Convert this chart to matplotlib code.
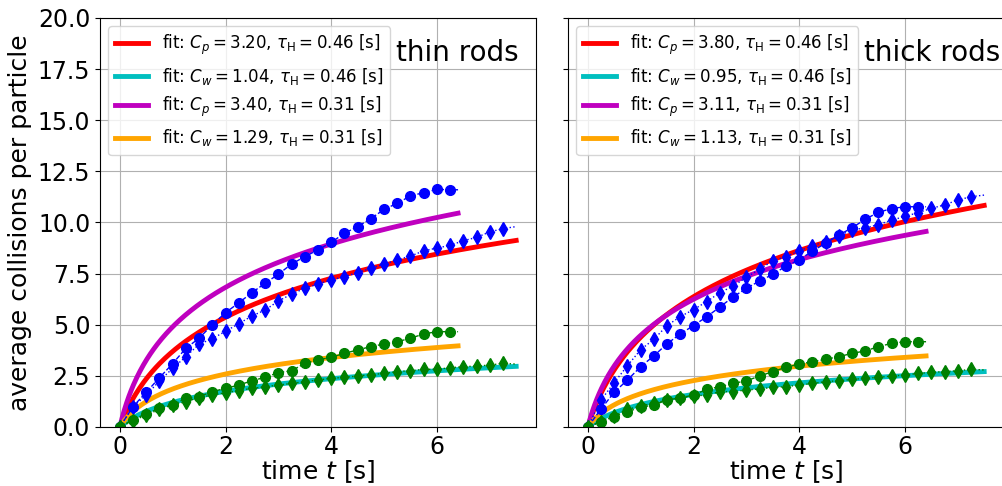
"""Average collisions per particle vs time, thin vs thick rods, with log fits."""

import numpy as np
import matplotlib
matplotlib.use("Agg")
import matplotlib.pyplot as plt

# sampling grid of the measured curves (markers every 0.25 s, line runs to the end time)
T_STEP = 0.25
T_END_SHORT = 6.4   # circle series (tau_H = 0.31)
T_END_LONG = 7.5    # diamond series (tau_H = 0.46)

# thin rods
thin_circ_blue = [0, 1.0, 1.7, 2.41, 3.1, 3.85, 4.34, 5.0, 5.59, 6.07, 6.57, 7.03, 7.47,
                  7.97, 8.33, 8.66, 9.03, 9.47, 9.80, 10.19, 10.64, 10.94, 11.30, 11.46,
                  11.62, 11.60, 11.60]
thin_diam_blue = [0, 1.0, 1.56, 2.25, 2.87, 3.44, 4.05, 4.32, 4.68, 5.05, 5.43, 5.72, 6.16,
                  6.50, 6.78, 6.99, 7.19, 7.35, 7.55, 7.76, 7.96, 8.17, 8.36, 8.61, 8.75,
                  8.88, 9.11, 9.27, 9.54, 9.70, 9.80]
thin_circ_green = [0, 0.36, 0.65, 0.91, 1.08, 1.40, 1.48, 1.73, 1.89, 2.05, 2.26, 2.43, 2.66,
                   2.75, 3.11, 3.28, 3.41, 3.60, 3.77, 3.93, 4.06, 4.17, 4.34, 4.55, 4.66,
                   4.66, 4.66]
thin_diam_green = [0, 0.30, 0.59, 0.86, 1.08, 1.24, 1.44, 1.56, 1.68, 1.78, 1.89, 1.97, 2.05,
                   2.13, 2.22, 2.30, 2.38, 2.43, 2.49, 2.56, 2.62, 2.71, 2.75, 2.82, 2.82,
                   2.90, 2.95, 2.98, 3.03, 3.11, 3.08]

# thick rods
thick_circ_blue = [0, 0.88, 1.70, 2.30, 2.95, 3.48, 4.07, 4.55, 4.96, 5.39, 5.87, 6.36, 6.78,
                   7.14, 7.46, 7.87, 8.17, 8.61, 8.98, 9.39, 9.74, 10.16, 10.50, 10.68,
                   10.77, 10.77, 10.77]
thick_diam_blue = [0, 1.32, 2.17, 3.0, 3.78, 4.29, 4.96, 5.40, 5.74, 6.13, 6.57, 6.89, 7.32,
                   7.71, 8.13, 8.33, 8.61, 8.87, 9.06, 9.34, 9.65, 9.73, 9.90, 10.11, 10.30,
                   10.48, 10.69, 10.86, 11.10, 11.26, 11.34]
thick_circ_green = [0, 0.26, 0.50, 0.75, 0.96, 1.08, 1.32, 1.43, 1.56, 1.84, 1.97, 2.13, 2.26,
                    2.49, 2.71, 2.92, 3.08, 3.19, 3.31, 3.44, 3.60, 3.72, 3.93, 4.09, 4.17,
                    4.17, 4.17]
thick_diam_green = [0, 0.26, 0.54, 0.86, 1.03, 1.16, 1.32, 1.43, 1.52, 1.56, 1.73, 1.73, 1.81,
                    1.86, 1.94, 1.97, 2.05, 2.13, 2.22, 2.26, 2.33, 2.38, 2.43, 2.49, 2.54,
                    2.62, 2.67, 2.71, 2.75, 2.82, 2.79]

# fit parameters from the legends: (C, tau_H, symbol)
thin_fits = [(3.20, 0.46, "p"), (1.04, 0.46, "w"), (3.40, 0.31, "p"), (1.29, 0.31, "w")]
thick_fits = [(3.80, 0.46, "p"), (0.95, 0.46, "w"), (3.11, 0.31, "p"), (1.13, 0.31, "w")]
fit_colors = ["r", "c", "m", "orange"]

titles = ["thin rods", "thick rods"]


def time_grid(values, t_end):
    """Markers every T_STEP, last sample sits at the end time."""
    n = len(values) - 1
    return np.append(np.arange(n) * T_STEP, t_end)


def draw_panel(ax, fits, circ_b, diam_b, circ_g, diam_g, title):
    for (c, tau, sym), color in zip(fits, fit_colors):
        t_end = T_END_LONG if tau > 0.4 else T_END_SHORT
        t = np.linspace(0, t_end, 300)
        ax.plot(t, c * np.log(1 + t / tau), color=color, lw=3.5,
                label=rf"fit: $C_{sym} = {c:.2f}$, $\tau_{{\rm H}} = {tau:.2f}$ [s]")

    data_kw = dict(markersize=7, lw=1, markevery=slice(0, -1))
    ax.plot(time_grid(circ_b, T_END_SHORT), circ_b, "bo--", **data_kw)
    ax.plot(time_grid(diam_b, T_END_LONG), diam_b, "bd:", **data_kw)
    ax.plot(time_grid(circ_g, T_END_SHORT), circ_g, "go--", **data_kw)
    ax.plot(time_grid(diam_g, T_END_LONG), diam_g, "gd:", **data_kw)

    ax.set_xlim(-0.375, 7.875)
    ax.set_ylim(0, 20)
    ax.set_xticks([0, 2, 4, 6])
    ax.set_yticks(np.arange(0, 20.1, 2.5))
    ax.grid(True)
    ax.tick_params(labelsize=17)
    ax.tick_params(axis="x", pad=2)
    ax.set_xlabel("time $t$ [s]", fontsize=18, labelpad=0)
    ax.legend(loc="upper left", fontsize=12)
    ax.text(0.68, 0.915, title, transform=ax.transAxes, fontsize=20, va="center")


def main() -> None:
    fig = plt.figure(figsize=(10.03, 4.86), dpi=100)
    ax1 = fig.add_axes([0.0997, 0.1214, 0.4347, 0.8416])
    ax2 = fig.add_axes([0.5663, 0.1214, 0.4347, 0.8416], sharey=ax1)

    draw_panel(ax1, thin_fits, thin_circ_blue, thin_diam_blue,
               thin_circ_green, thin_diam_green, titles[0])
    draw_panel(ax2, thick_fits, thick_circ_blue, thick_diam_blue,
               thick_circ_green, thick_diam_green, titles[1])

    ax1.set_ylabel("average collisions per particle", fontsize=18)
    ax2.tick_params(labelleft=False)

    fig.savefig("out.png", dpi=100)
    plt.close(fig)


if __name__ == "__main__":
    main()
